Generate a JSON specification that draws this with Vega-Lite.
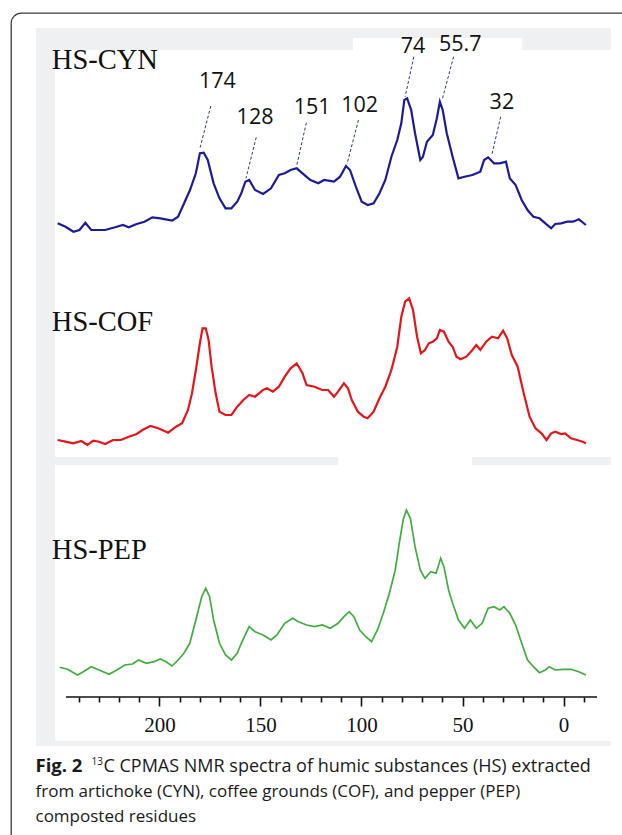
{
  "$schema": "https://vega.github.io/schema/vega-lite/v6.json",
  "width": 622,
  "height": 835,
  "autosize": {"type": "fit", "contains": "padding"},
  "padding": {"left": 11, "top": 13, "right": -10, "bottom": -10},
  "background": "white",
  "config": {"view": {"stroke": "#3a3a3a", "strokeWidth": 1.3, "cornerRadius": 10, "fill": "white"}},
  "datasets": {
    "bgGray": [{"x1": 261.1, "x2": -23.5, "y1": 212, "y2": -506}],
    "bgWhite": [
      {"x1": 251.7, "x2": -23.5, "y1": 190, "y2": -217},
      {"x1": 251.7, "x2": -23.5, "y1": -225, "y2": -501},
      {"x1": 104.2, "x2": 20.5, "y1": 202, "y2": 190},
      {"x1": 111.6, "x2": 45.3, "y1": -217, "y2": -225}
    ],
    "peaks": [
      {"label": "174", "lx": 171.3, "ly": 158.3, "ax1": 174.6, "ay1": 134, "ax2": 180.1, "ay2": 90.7},
      {"label": "128", "lx": 152.7, "ly": 121.7, "ax1": 152.1, "ay1": 102.7, "ax2": 157.2, "ay2": 61.7},
      {"label": "151", "lx": 124.4, "ly": 131.7, "ax1": 127.3, "ay1": 117.3, "ax2": 132.2, "ay2": 73.3},
      {"label": "102", "lx": 100.9, "ly": 134, "ax1": 101.5, "ay1": 120, "ax2": 107.2, "ay2": 75.7},
      {"label": "74", "lx": 74.5, "ly": 193.3, "ax1": 74.1, "ay1": 183.3, "ax2": 78.4, "ay2": 143.3},
      {"label": "55.7", "lx": 51.1, "ly": 195, "ax1": 54.4, "ay1": 183.3, "ax2": 59.9, "ay2": 141.7},
      {"label": "32", "lx": 30.5, "ly": 136.7, "ax1": 31.1, "ay1": 123.3, "ax2": 35.5, "ay2": 85}
    ],
    "cyn": [
      {"ppm": 250.4, "I": 16.7}, {"ppm": 246.5, "I": 13.3}, {"ppm": 242.6, "I": 8.3}, {"ppm": 239.6, "I": 10}, {"ppm": 236.7, "I": 17.3},
      {"ppm": 233.8, "I": 10}, {"ppm": 226.9, "I": 10}, {"ppm": 221.1, "I": 13.3}, {"ppm": 218.1, "I": 15}, {"ppm": 215.2, "I": 12.7},
      {"ppm": 211.3, "I": 16}, {"ppm": 207.4, "I": 18.3}, {"ppm": 203.5, "I": 22.7}, {"ppm": 199.6, "I": 21.7}, {"ppm": 193.7, "I": 19.3},
      {"ppm": 190.8, "I": 23.3}, {"ppm": 187.8, "I": 36.7}, {"ppm": 184.9, "I": 50}, {"ppm": 182.0, "I": 66.7}, {"ppm": 180.0, "I": 86.7},
      {"ppm": 178.1, "I": 87.3}, {"ppm": 176.1, "I": 80}, {"ppm": 173.2, "I": 56.7}, {"ppm": 170.3, "I": 41.7}, {"ppm": 167.3, "I": 31.7},
      {"ppm": 164.4, "I": 31.7}, {"ppm": 161.5, "I": 38.3}, {"ppm": 159.5, "I": 46.7}, {"ppm": 157.5, "I": 58.3}, {"ppm": 155.6, "I": 60},
      {"ppm": 152.7, "I": 50}, {"ppm": 148.7, "I": 46}, {"ppm": 144.8, "I": 51.7}, {"ppm": 140.9, "I": 65}, {"ppm": 138.0, "I": 66.7},
      {"ppm": 135.1, "I": 70}, {"ppm": 132.1, "I": 71.7}, {"ppm": 129.2, "I": 66.7}, {"ppm": 125.3, "I": 60}, {"ppm": 121.4, "I": 56.7},
      {"ppm": 118.5, "I": 60}, {"ppm": 113.6, "I": 58.3}, {"ppm": 110.6, "I": 63.3}, {"ppm": 107.7, "I": 74}, {"ppm": 105.7, "I": 70},
      {"ppm": 102.8, "I": 53.3}, {"ppm": 99.9, "I": 38.3}, {"ppm": 96.9, "I": 35}, {"ppm": 94.0, "I": 36.7}, {"ppm": 91.1, "I": 46.7},
      {"ppm": 88.2, "I": 60}, {"ppm": 85.2, "I": 83.3}, {"ppm": 82.3, "I": 100}, {"ppm": 80.3, "I": 116.7}, {"ppm": 78.8, "I": 140},
      {"ppm": 77.4, "I": 141.7}, {"ppm": 75.4, "I": 130}, {"ppm": 73.5, "I": 106.7}, {"ppm": 70.9, "I": 80}, {"ppm": 69.6, "I": 83.3},
      {"ppm": 67.6, "I": 98.3}, {"ppm": 64.7, "I": 105}, {"ppm": 62.7, "I": 121.7}, {"ppm": 61.2, "I": 138.3}, {"ppm": 59.8, "I": 130},
      {"ppm": 57.8, "I": 106.7}, {"ppm": 54.9, "I": 83.3}, {"ppm": 52.0, "I": 61.7}, {"ppm": 49.0, "I": 63.3}, {"ppm": 45.1, "I": 65},
      {"ppm": 41.2, "I": 68.3}, {"ppm": 39.3, "I": 80}, {"ppm": 37.3, "I": 82.7}, {"ppm": 34.4, "I": 76.7}, {"ppm": 31.5, "I": 76.7},
      {"ppm": 28.5, "I": 78.3}, {"ppm": 26.6, "I": 61.7}, {"ppm": 23.7, "I": 55}, {"ppm": 20.7, "I": 40}, {"ppm": 17.8, "I": 30},
      {"ppm": 14.9, "I": 23.3}, {"ppm": 11.9, "I": 21.7}, {"ppm": 9.0, "I": 16.7}, {"ppm": 6.1, "I": 11.7}, {"ppm": 4.1, "I": 16},
      {"ppm": 1.2, "I": 16.7}, {"ppm": -1.8, "I": 18.3}, {"ppm": -4.7, "I": 18.3}, {"ppm": -7.6, "I": 20.7}, {"ppm": -11.1, "I": 15}
    ],
    "cof": [
      {"ppm": 250.4, "I": 20}, {"ppm": 246.5, "I": 18.3}, {"ppm": 242.6, "I": 16.7}, {"ppm": 238.7, "I": 19}, {"ppm": 235.7, "I": 15},
      {"ppm": 232.8, "I": 19.3}, {"ppm": 229.9, "I": 18.3}, {"ppm": 226.9, "I": 16}, {"ppm": 223.0, "I": 20}, {"ppm": 219.1, "I": 20},
      {"ppm": 215.2, "I": 23.3}, {"ppm": 211.3, "I": 26}, {"ppm": 208.4, "I": 30}, {"ppm": 204.5, "I": 34}, {"ppm": 200.6, "I": 31.7},
      {"ppm": 195.7, "I": 27.3}, {"ppm": 191.8, "I": 33.3}, {"ppm": 188.8, "I": 36.7}, {"ppm": 185.9, "I": 50}, {"ppm": 183.9, "I": 66.7},
      {"ppm": 182.0, "I": 90}, {"ppm": 180.0, "I": 116.7}, {"ppm": 178.7, "I": 131.7}, {"ppm": 177.1, "I": 131.7}, {"ppm": 175.7, "I": 120},
      {"ppm": 174.2, "I": 93.3}, {"ppm": 172.2, "I": 66.7}, {"ppm": 170.3, "I": 48.3}, {"ppm": 167.3, "I": 45}, {"ppm": 164.4, "I": 45},
      {"ppm": 161.5, "I": 53.3}, {"ppm": 158.5, "I": 60}, {"ppm": 155.6, "I": 65}, {"ppm": 152.7, "I": 63.3}, {"ppm": 148.7, "I": 70},
      {"ppm": 146.8, "I": 71.7}, {"ppm": 143.9, "I": 68.3}, {"ppm": 140.9, "I": 73.3}, {"ppm": 138.0, "I": 83.3}, {"ppm": 135.1, "I": 91.7},
      {"ppm": 132.1, "I": 96.7}, {"ppm": 129.2, "I": 86.7}, {"ppm": 127.2, "I": 75}, {"ppm": 123.3, "I": 73.3}, {"ppm": 119.4, "I": 70},
      {"ppm": 116.5, "I": 70}, {"ppm": 113.6, "I": 63.3}, {"ppm": 111.6, "I": 68.3}, {"ppm": 108.7, "I": 76.7}, {"ppm": 106.7, "I": 71.7},
      {"ppm": 104.8, "I": 60}, {"ppm": 101.8, "I": 48.3}, {"ppm": 98.9, "I": 43.3}, {"ppm": 97.0, "I": 41.7}, {"ppm": 94.0, "I": 48.3},
      {"ppm": 91.1, "I": 61.7}, {"ppm": 88.2, "I": 73.3}, {"ppm": 85.2, "I": 90}, {"ppm": 82.3, "I": 113.3}, {"ppm": 80.3, "I": 143.3},
      {"ppm": 78.4, "I": 158.3}, {"ppm": 76.4, "I": 161.7}, {"ppm": 74.5, "I": 150}, {"ppm": 72.5, "I": 123.3}, {"ppm": 70.6, "I": 106.7},
      {"ppm": 68.6, "I": 110}, {"ppm": 66.7, "I": 116.7}, {"ppm": 64.7, "I": 118.3}, {"ppm": 62.7, "I": 121.7}, {"ppm": 61.2, "I": 130},
      {"ppm": 59.2, "I": 128.3}, {"ppm": 56.9, "I": 118.3}, {"ppm": 54.9, "I": 113.3}, {"ppm": 53.0, "I": 103.3}, {"ppm": 51.0, "I": 100.7},
      {"ppm": 48.1, "I": 103.3}, {"ppm": 45.1, "I": 110}, {"ppm": 43.2, "I": 115}, {"ppm": 41.2, "I": 110}, {"ppm": 38.3, "I": 118.3},
      {"ppm": 35.4, "I": 123.3}, {"ppm": 32.4, "I": 121.7}, {"ppm": 29.9, "I": 129.3}, {"ppm": 27.9, "I": 121.7}, {"ppm": 25.6, "I": 105},
      {"ppm": 22.7, "I": 93.3}, {"ppm": 19.7, "I": 66.7}, {"ppm": 16.8, "I": 43.3}, {"ppm": 13.9, "I": 31.7}, {"ppm": 10.9, "I": 26.7},
      {"ppm": 8.4, "I": 20}, {"ppm": 6.1, "I": 26.7}, {"ppm": 4.1, "I": 28.3}, {"ppm": 1.2, "I": 26}, {"ppm": -0.8, "I": 26.7},
      {"ppm": -3.7, "I": 21.7}, {"ppm": -6.6, "I": 20}, {"ppm": -9.6, "I": 18.3}, {"ppm": -11.1, "I": 16.7}
    ],
    "pep": [
      {"ppm": 249.4, "I": 29.7}, {"ppm": 245.5, "I": 27.7}, {"ppm": 240.6, "I": 22}, {"ppm": 237.7, "I": 25.3}, {"ppm": 233.8, "I": 30.3},
      {"ppm": 229.9, "I": 27}, {"ppm": 225.0, "I": 22.7}, {"ppm": 221.1, "I": 27}, {"ppm": 217.2, "I": 32}, {"ppm": 213.3, "I": 33},
      {"ppm": 210.4, "I": 37}, {"ppm": 206.5, "I": 33.7}, {"ppm": 202.6, "I": 35.3}, {"ppm": 199.6, "I": 38}, {"ppm": 196.7, "I": 35.3},
      {"ppm": 193.8, "I": 31}, {"ppm": 190.8, "I": 37}, {"ppm": 187.9, "I": 43.7}, {"ppm": 185.0, "I": 53.7}, {"ppm": 182.0, "I": 77},
      {"ppm": 179.1, "I": 100.3}, {"ppm": 177.1, "I": 108.7}, {"ppm": 175.2, "I": 100.3}, {"ppm": 173.2, "I": 77}, {"ppm": 170.3, "I": 53.7},
      {"ppm": 167.3, "I": 42}, {"ppm": 164.4, "I": 37}, {"ppm": 161.5, "I": 43.7}, {"ppm": 159.5, "I": 53.7}, {"ppm": 155.6, "I": 70.3},
      {"ppm": 152.7, "I": 65.3}, {"ppm": 148.7, "I": 62}, {"ppm": 144.8, "I": 57}, {"ppm": 141.9, "I": 62}, {"ppm": 138.0, "I": 73.7},
      {"ppm": 134.1, "I": 78.7}, {"ppm": 131.2, "I": 75.3}, {"ppm": 127.2, "I": 72}, {"ppm": 123.3, "I": 70.3}, {"ppm": 119.4, "I": 72},
      {"ppm": 115.5, "I": 68.7}, {"ppm": 111.6, "I": 73.7}, {"ppm": 108.7, "I": 80.3}, {"ppm": 106.1, "I": 85.3}, {"ppm": 103.8, "I": 80.3},
      {"ppm": 100.9, "I": 67}, {"ppm": 97.9, "I": 60.3}, {"ppm": 95.0, "I": 55.3}, {"ppm": 92.1, "I": 67}, {"ppm": 89.2, "I": 83.7},
      {"ppm": 86.2, "I": 103.7}, {"ppm": 83.3, "I": 127}, {"ppm": 81.3, "I": 153.7}, {"ppm": 79.4, "I": 177}, {"ppm": 77.8, "I": 187},
      {"ppm": 75.8, "I": 178.7}, {"ppm": 73.5, "I": 150.3}, {"ppm": 70.9, "I": 127}, {"ppm": 68.6, "I": 118.7}, {"ppm": 65.7, "I": 125.3},
      {"ppm": 63.1, "I": 123.7}, {"ppm": 60.8, "I": 138.7}, {"ppm": 59.2, "I": 130.3}, {"ppm": 56.9, "I": 107}, {"ppm": 54.9, "I": 93.7},
      {"ppm": 52.0, "I": 77}, {"ppm": 49.0, "I": 68.7}, {"ppm": 46.1, "I": 77}, {"ppm": 43.2, "I": 68.7}, {"ppm": 40.3, "I": 73.7},
      {"ppm": 37.3, "I": 88.7}, {"ppm": 34.4, "I": 90.3}, {"ppm": 31.5, "I": 87}, {"ppm": 29.5, "I": 90.3}, {"ppm": 26.6, "I": 83.7},
      {"ppm": 23.7, "I": 72}, {"ppm": 20.7, "I": 53.7}, {"ppm": 17.8, "I": 37}, {"ppm": 14.9, "I": 30.3}, {"ppm": 11.9, "I": 24.3},
      {"ppm": 9.0, "I": 27}, {"ppm": 7.0, "I": 30.3}, {"ppm": 4.1, "I": 27}, {"ppm": 0.2, "I": 27.7}, {"ppm": -3.7, "I": 27.7},
      {"ppm": -7.6, "I": 25.3}, {"ppm": -11.1, "I": 22}
    ]
  },
  "resolve": {"scale": {"y": "independent"}, "axis": {"x": "independent", "y": "independent"}},
  "layer": [
    {
      "data": {"name": "bgGray"},
      "mark": {"type": "rect", "color": "#eff0f2"},
      "encoding": {
        "x": {"field": "x1", "type": "quantitative", "scale": {"domain": [273.5, -33.9], "nice": false, "zero": false}, "axis": null},
        "x2": {"field": "x2"},
        "y": {"field": "y1", "type": "quantitative", "scale": {"domain": [-605, 227], "nice": false, "zero": false}, "axis": null},
        "y2": {"field": "y2"}
      }
    },
    {
      "data": {"name": "bgWhite"},
      "mark": {"type": "rect", "color": "#ffffff"},
      "encoding": {
        "x": {"field": "x1", "type": "quantitative", "scale": {"domain": [273.5, -33.9], "nice": false, "zero": false}, "axis": null},
        "x2": {"field": "x2"},
        "y": {"field": "y1", "type": "quantitative", "scale": {"domain": [-605, 227], "nice": false, "zero": false}, "axis": null},
        "y2": {"field": "y2"}
      }
    },
    {
      "data": {"name": "cyn"},
      "mark": {"type": "line", "color": "#1c1c98", "strokeWidth": 2.2},
      "encoding": {
        "x": {"field": "ppm", "type": "quantitative", "scale": {"domain": [273.5, -33.9], "nice": false, "zero": false}, "axis": null},
        "y": {"field": "I", "type": "quantitative", "scale": {"domain": [-605, 227], "nice": false, "zero": false},
          "axis": {"orient": "left", "zindex": 2, "domain": false, "ticks": false, "labels": false, "grid": false, "minExtent": 0,
            "title": "Fig. 2", "titleAngle": 0, "titleX": 24, "titleY": 758, "titleAlign": "left", "titleBaseline": "alphabetic",
            "titleFont": "Open Sans", "titleFontSize": 18.5, "titleFontWeight": "bold", "titleColor": "#1a1a1a"}}
      }
    },
    {
      "data": {"name": "peaks"},
      "mark": {"type": "rule", "color": "#2d3b80", "strokeWidth": 1, "strokeDash": [3, 2]},
      "encoding": {
        "x": {"field": "ax1", "type": "quantitative", "scale": {"domain": [273.5, -33.9], "nice": false, "zero": false}, "axis": null},
        "x2": {"field": "ax2"},
        "y": {"field": "ay1", "type": "quantitative", "scale": {"domain": [-605, 227], "nice": false, "zero": false}, "axis": null},
        "y2": {"field": "ay2"}
      }
    },
    {
      "data": {"name": "peaks"},
      "mark": {"type": "text", "font": "Open Sans", "fontSize": 21.5, "color": "#111111", "align": "center", "baseline": "middle"},
      "encoding": {
        "x": {"field": "lx", "type": "quantitative", "scale": {"domain": [273.5, -33.9], "nice": false, "zero": false}, "axis": null},
        "y": {"field": "ly", "type": "quantitative", "scale": {"domain": [-605, 227], "nice": false, "zero": false}, "axis": null},
        "text": {"field": "label"}
      }
    },
    {
      "data": {"values": [{"series": "HS-CYN", "lx": 253.3, "ly": 180}]},
      "mark": {"type": "text", "font": "Liberation Serif", "fontSize": 28.5, "color": "#111111", "align": "left", "baseline": "middle"},
      "encoding": {
        "x": {"field": "lx", "type": "quantitative", "scale": {"domain": [273.5, -33.9], "nice": false, "zero": false}, "axis": null},
        "y": {"field": "ly", "type": "quantitative", "scale": {"domain": [-605, 227], "nice": false, "zero": false}, "axis": null},
        "text": {"field": "series"}
      }
    },
    {
      "data": {"name": "cof"},
      "mark": {"type": "line", "color": "#e3161c", "strokeWidth": 2.2},
      "encoding": {
        "x": {"field": "ppm", "type": "quantitative", "scale": {"domain": [273.5, -33.9], "nice": false, "zero": false}, "axis": null},
        "y": {"field": "I", "type": "quantitative", "scale": {"domain": [-385, 447], "nice": false, "zero": false},
          "axis": {"orient": "right", "zindex": 2, "domain": false, "ticks": false, "labels": false, "grid": false, "minExtent": 0,
            "title": "13", "titleAngle": 0, "titleX": -541, "titleY": 751, "titleAlign": "left", "titleBaseline": "alphabetic",
            "titleFont": "Open Sans", "titleFontSize": 10, "titleFontWeight": "normal", "titleColor": "#1a1a1a"}}
      }
    },
    {
      "data": {"values": [{"series": "HS-COF", "lx": 253.3, "ly": 138.3}]},
      "mark": {"type": "text", "font": "Liberation Serif", "fontSize": 28.5, "color": "#111111", "align": "left", "baseline": "middle"},
      "encoding": {
        "x": {"field": "lx", "type": "quantitative", "scale": {"domain": [273.5, -33.9], "nice": false, "zero": false}, "axis": null},
        "y": {"field": "ly", "type": "quantitative", "scale": {"domain": [-385, 447], "nice": false, "zero": false}, "axis": null},
        "text": {"field": "series"}
      }
    },
    {
      "data": {"values": [{"a": 246.3, "b": -16.6, "z": 0}]},
      "mark": {"type": "rule", "color": "#111111", "strokeWidth": 1.6},
      "encoding": {
        "x": {"field": "a", "type": "quantitative", "scale": {"domain": [273.5, -33.9], "nice": false, "zero": false}, "axis": null},
        "x2": {"field": "b"},
        "y": {"field": "z", "type": "quantitative", "scale": {"domain": [-148, 684], "nice": false, "zero": false}, "axis": null}
      }
    },
    {
      "data": {"name": "pep"},
      "mark": {"type": "line", "color": "#41ad41", "strokeWidth": 1.7},
      "encoding": {
        "x": {"field": "ppm", "type": "quantitative", "scale": {"domain": [273.5, -33.9], "nice": false, "zero": false},
          "axis": {"orient": "bottom", "zindex": 2, "offset": -148, "grid": false, "domain": false,
            "values": [240, 230, 220, 210, 200, 190, 180, 170, 160, 150, 140, 130, 120, 110, 100, 90, 80, 70, 60, 50, 40, 30, 20, 10, 0, -10],
            "labelExpr": "datum.value % 50 === 0 ? datum.label : ''",
            "labelFont": "Liberation Serif", "labelFontSize": 21, "labelColor": "#111111", "labelPadding": 8, "labelFlush": false, "labelOverlap": false,
            "tickColor": "#111111", "tickWidth": 1.6,
            "tickSize": {"condition": {"test": "datum.value % 50 === 0", "value": 9}, "value": 5},
            "minExtent": 0,
            "title": ["from artichoke (CYN), coffee grounds (COF), and pepper (PEP)", "composted residues"],
            "titleFont": "Open Sans", "titleFontSize": 17, "titleFontWeight": "normal", "titleColor": "#1a1a1a",
            "titleAnchor": "start", "titleAlign": "left", "titleX": 24, "titleY": 99, "titleBaseline": "alphabetic", "titleLineHeight": 25}},
        "y": {"field": "I", "type": "quantitative", "scale": {"domain": [-148, 684], "nice": false, "zero": false},
          "axis": {"orient": "left", "zindex": 2, "domain": false, "ticks": false, "labels": false, "grid": false, "minExtent": 0,
            "title": "C CPMAS NMR spectra of humic substances (HS) extracted", "titleAngle": 0, "titleX": 92, "titleY": 758, "titleAlign": "left", "titleBaseline": "alphabetic",
            "titleFont": "Open Sans", "titleFontSize": 18, "titleFontWeight": "normal", "titleColor": "#1a1a1a"}}
      }
    },
    {
      "data": {"values": [{"series": "HS-PEP", "lx": 253.3, "ly": 147}]},
      "mark": {"type": "text", "font": "Liberation Serif", "fontSize": 28.5, "color": "#111111", "align": "left", "baseline": "middle"},
      "encoding": {
        "x": {"field": "lx", "type": "quantitative", "scale": {"domain": [273.5, -33.9], "nice": false, "zero": false}, "axis": null},
        "y": {"field": "ly", "type": "quantitative", "scale": {"domain": [-148, 684], "nice": false, "zero": false}, "axis": null},
        "text": {"field": "series"}
      }
    }
  ]
}
